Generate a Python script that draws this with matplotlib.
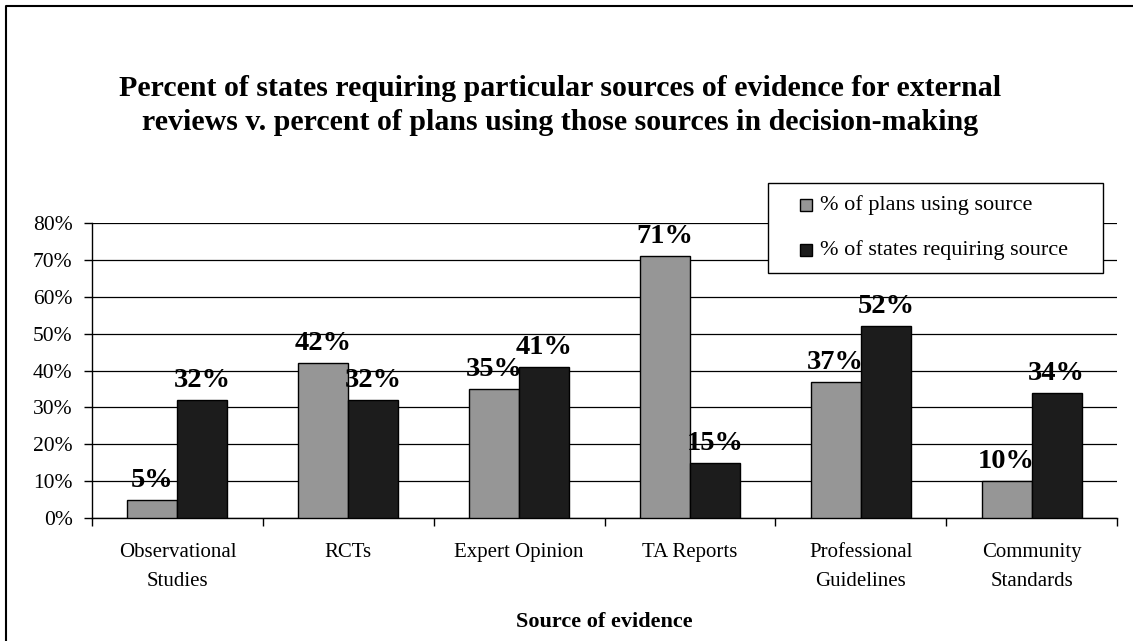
import matplotlib
matplotlib.use('Agg')
import matplotlib.pyplot as plt
from matplotlib.patches import Rectangle
from matplotlib.lines import Line2D
from matplotlib.ticker import FixedLocator, PercentFormatter
import numpy as np

categories = ['Observational\nStudies', 'RCTs', 'Expert Opinion', 'TA Reports',
              'Professional\nGuidelines', 'Community\nStandards']
plans_pct = [5, 42, 35, 71, 37, 10]
states_pct = [32, 32, 41, 15, 52, 34]
series_names = ['% of plans using source', '% of states requiring source']
series_colors = ['#969696', '#1c1c1c']
title_lines = ['Percent of states requiring particular sources of evidence for external',
               'reviews v. percent of plans using those sources in decision-making']

plt.rcParams['font.family'] = ['Liberation Serif', 'DejaVu Serif']

W, H = 1133, 641
fig = plt.figure(figsize=(W / 100, H / 100), dpi=100)
ax = fig.add_axes([92 / W, 1 - 518 / H, (1117 - 92) / W, (518 - 223) / H])

x = np.arange(len(categories))
bw = 0.293
b1 = ax.bar(x - bw / 2, plans_pct, bw, color=series_colors[0], edgecolor='black',
            linewidth=1.0, zorder=3)
b2 = ax.bar(x + bw / 2, states_pct, bw, color=series_colors[1], edgecolor='black',
            linewidth=1.0, zorder=3)

for bars, vals in [(b1, plans_pct), (b2, states_pct)]:
    for rect, v in zip(bars, vals):
        ax.annotate(f'{v}%', (rect.get_x() + rect.get_width() / 2, v),
                    xytext=(0, 5), textcoords='offset points',
                    ha='center', va='bottom', fontsize=20.5, fontweight='bold')

ax.set_xlim(-0.5, len(categories) - 0.5)
ax.set_ylim(0, 80)
ax.yaxis.set_major_locator(FixedLocator(np.arange(0, 81, 10)))
ax.yaxis.set_major_formatter(PercentFormatter(decimals=0))
ax.yaxis.grid(True, color='black', linewidth=0.9)
ax.set_axisbelow(True)

ax.xaxis.set_major_locator(FixedLocator(np.arange(-0.5, len(categories), 1)))
ax.xaxis.set_major_formatter(plt.NullFormatter())
ax.xaxis.set_minor_locator(FixedLocator(x))
ax.set_xticklabels(categories, minor=True, linespacing=1.7)
ax.tick_params(axis='x', which='major', length=6, direction='out', width=1)
ax.tick_params(axis='x', which='minor', length=0, pad=18, labelsize=15)
ax.tick_params(axis='y', length=6, direction='out', width=1, labelsize=15.5, pad=8)

for s in ['top', 'right']:
    ax.spines[s].set_visible(False)
for s in ['left', 'bottom']:
    ax.spines[s].set_linewidth(1)

ax.set_xlabel('Source of evidence', fontsize=16, fontweight='bold', labelpad=15)

# legend box drawn by hand so the padding matches
fig.patches.append(Rectangle((768 / W, 1 - 273 / H), 335 / W, 90 / H,
                             transform=fig.transFigure, facecolor='white',
                             edgecolor='black', linewidth=1, zorder=5))
for i, (name, col) in enumerate(zip(series_names, series_colors)):
    yc = 1 - (205 + 45 * i) / H
    fig.lines.append(Line2D([806 / W], [yc], transform=fig.transFigure,
                            marker='s', markersize=9, markerfacecolor=col,
                            markeredgecolor='black', markeredgewidth=1,
                            linestyle='none', zorder=6))
    fig.text(820 / W, yc, name, ha='left', va='center', fontsize=16, zorder=6)

for i, line in enumerate(title_lines):
    fig.text(560 / W, 1 - (88 + 34 * i) / H, line, ha='center', va='center',
             fontsize=21.5, fontweight='bold')

# chart area border: only the left and top edges fall inside the picture
fig.lines.append(Line2D([6 / W, 6 / W, 1], [0, 1 - 6 / H, 1 - 6 / H],
                        transform=fig.transFigure, color='black', linewidth=1.5))

fig.savefig('out.png', dpi=100)
